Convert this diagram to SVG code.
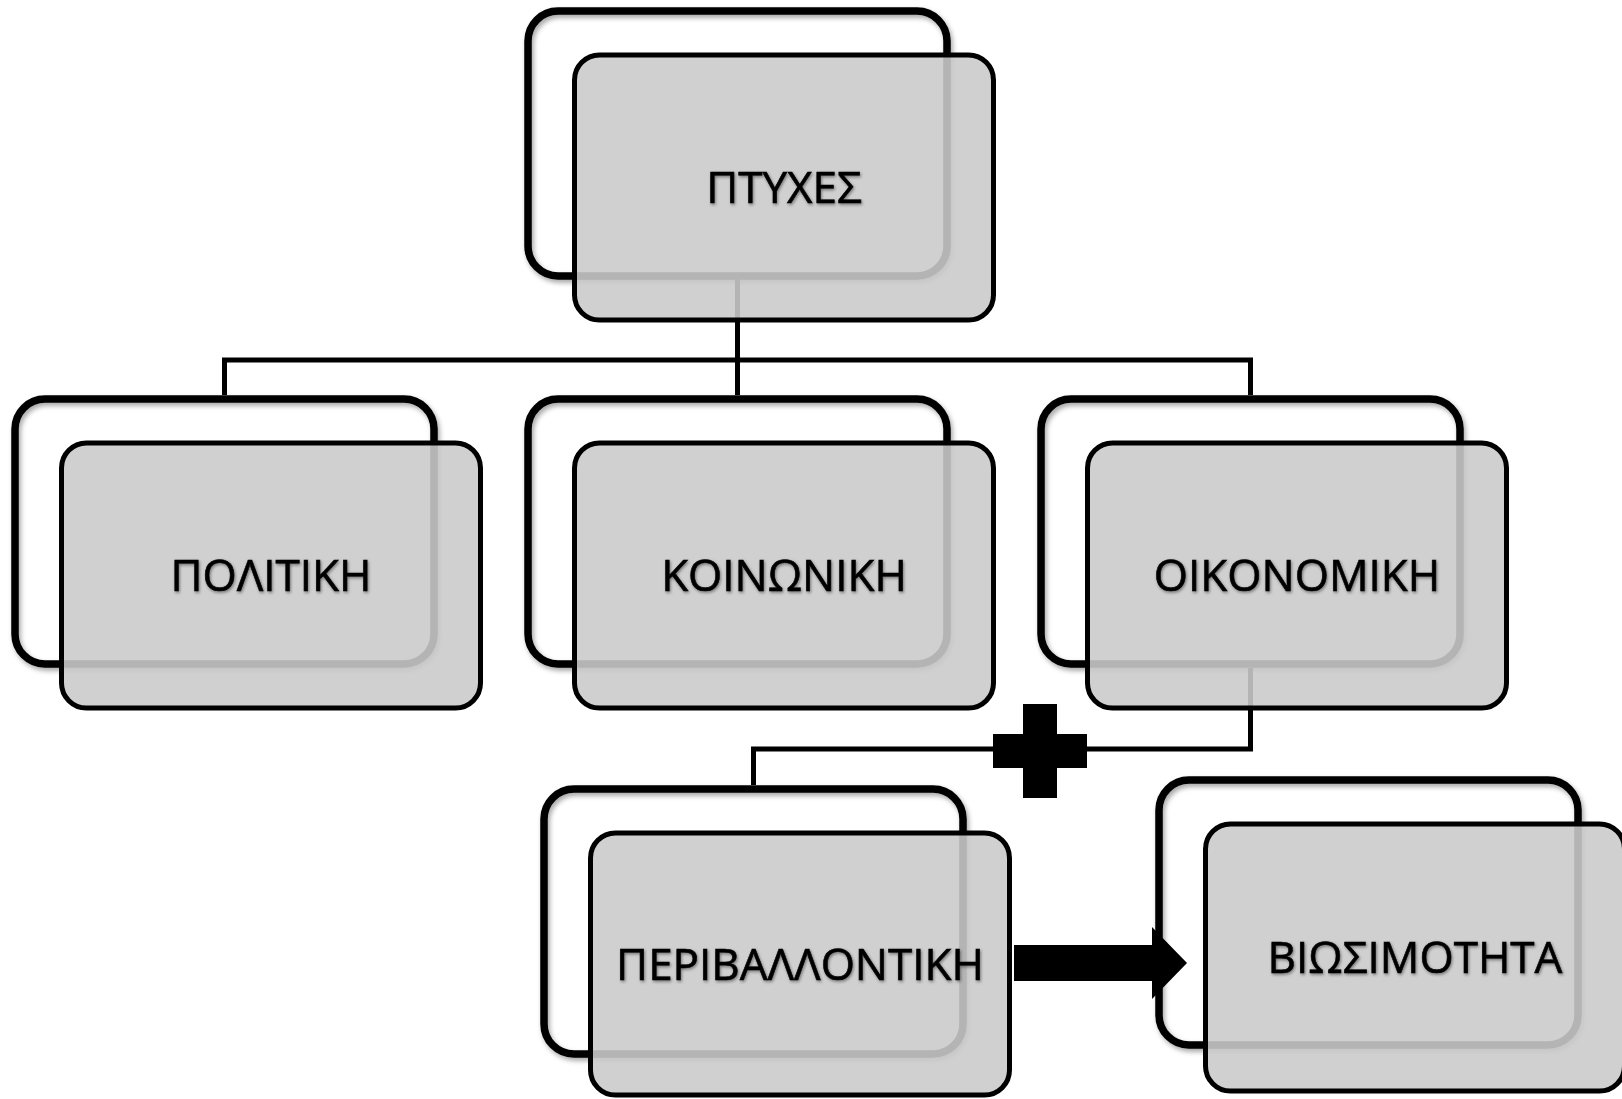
<svg xmlns="http://www.w3.org/2000/svg" width="1622" height="1099" viewBox="0 0 1622 1099">
<defs>
<filter id="bs" x="-10%" y="-10%" width="120%" height="125%">
<feDropShadow dx="2" dy="3" stdDeviation="2.5" flood-color="#000" flood-opacity="0.35"/>
</filter>
<filter id="ts" x="-5%" y="-20%" width="110%" height="140%">
<feDropShadow dx="1" dy="1.5" stdDeviation="1.5" flood-color="#000" flood-opacity="0.45"/>
</filter>
</defs>
<style>
.back{fill:none;stroke:#000;stroke-width:7.5}
.front{fill:#cacaca;fill-opacity:0.89;stroke:#000;stroke-width:5}
.lbl{font-family:"Open Sans","Noto Sans","DejaVu Sans",sans-serif;font-size:44px;fill:#000;stroke:#000;stroke-width:0.6;text-anchor:middle}
.conn{fill:none;stroke:#000;stroke-width:5}
</style>
<rect width="1622" height="1099" fill="#fff"/>
<g id="connectors">
<path class="conn" d="M224.5 395 V360 H1250.5 V395 M737.5 279 V395"/>
<path class="conn" d="M1250.5 668 V749 H753.5 V785"/>
</g>
<g id="node-ptyxes">
<rect class="back" filter="url(#bs)" x="528" y="11" width="419" height="265" rx="30"/>
<rect class="front" x="574.5" y="55" width="419" height="265" rx="25"/>
<text class="lbl" filter="url(#ts)" x="784" y="203">ΠΤΥΧΕΣ</text>
</g>
<g id="node-politiki">
<rect class="back" filter="url(#bs)" x="15" y="399" width="419" height="265" rx="30"/>
<rect class="front" x="61.5" y="443" width="419" height="265" rx="25"/>
<text class="lbl" filter="url(#ts)" x="271" y="591">ΠΟΛΙΤΙΚΗ</text>
</g>
<g id="node-koinoniki">
<rect class="back" filter="url(#bs)" x="528" y="399" width="419" height="265" rx="30"/>
<rect class="front" x="574.5" y="443" width="419" height="265" rx="25"/>
<text class="lbl" filter="url(#ts)" x="784" y="591">ΚΟΙΝΩΝΙΚΗ</text>
</g>
<g id="node-oikonomiki">
<rect class="back" filter="url(#bs)" x="1041" y="399" width="419" height="265" rx="30"/>
<rect class="front" x="1087.5" y="443" width="419" height="265" rx="25"/>
<text class="lbl" filter="url(#ts)" x="1297" y="591">ΟΙΚΟΝΟΜΙΚΗ</text>
</g>
<g id="node-perivallontiki">
<rect class="back" filter="url(#bs)" x="544" y="789" width="419" height="265" rx="30"/>
<rect class="front" x="590.5" y="833" width="419" height="262" rx="25"/>
<text class="lbl" filter="url(#ts)" x="800" y="980">ΠΕΡΙΒΑΛΛΟΝΤΙΚΗ</text>
</g>
<g id="node-viosimotita">
<rect class="back" filter="url(#bs)" x="1159" y="780" width="419" height="265" rx="30"/>
<rect class="front" x="1205.5" y="824" width="419" height="267" rx="25"/>
<text class="lbl" filter="url(#ts)" x="1415" y="973">ΒΙΩΣΙΜΟΤΗΤΑ</text>
</g>
<g id="symbols">
<path d="M1023 704 H1057 V734 H1087 V768 H1057 V798 H1023 V768 H993 V734 H1023 Z" fill="#000"/>
<polygon points="1014,945 1152,945 1152,927 1187,963 1152,999 1152,981 1014,981" fill="#000"/>
</g>
</svg>
